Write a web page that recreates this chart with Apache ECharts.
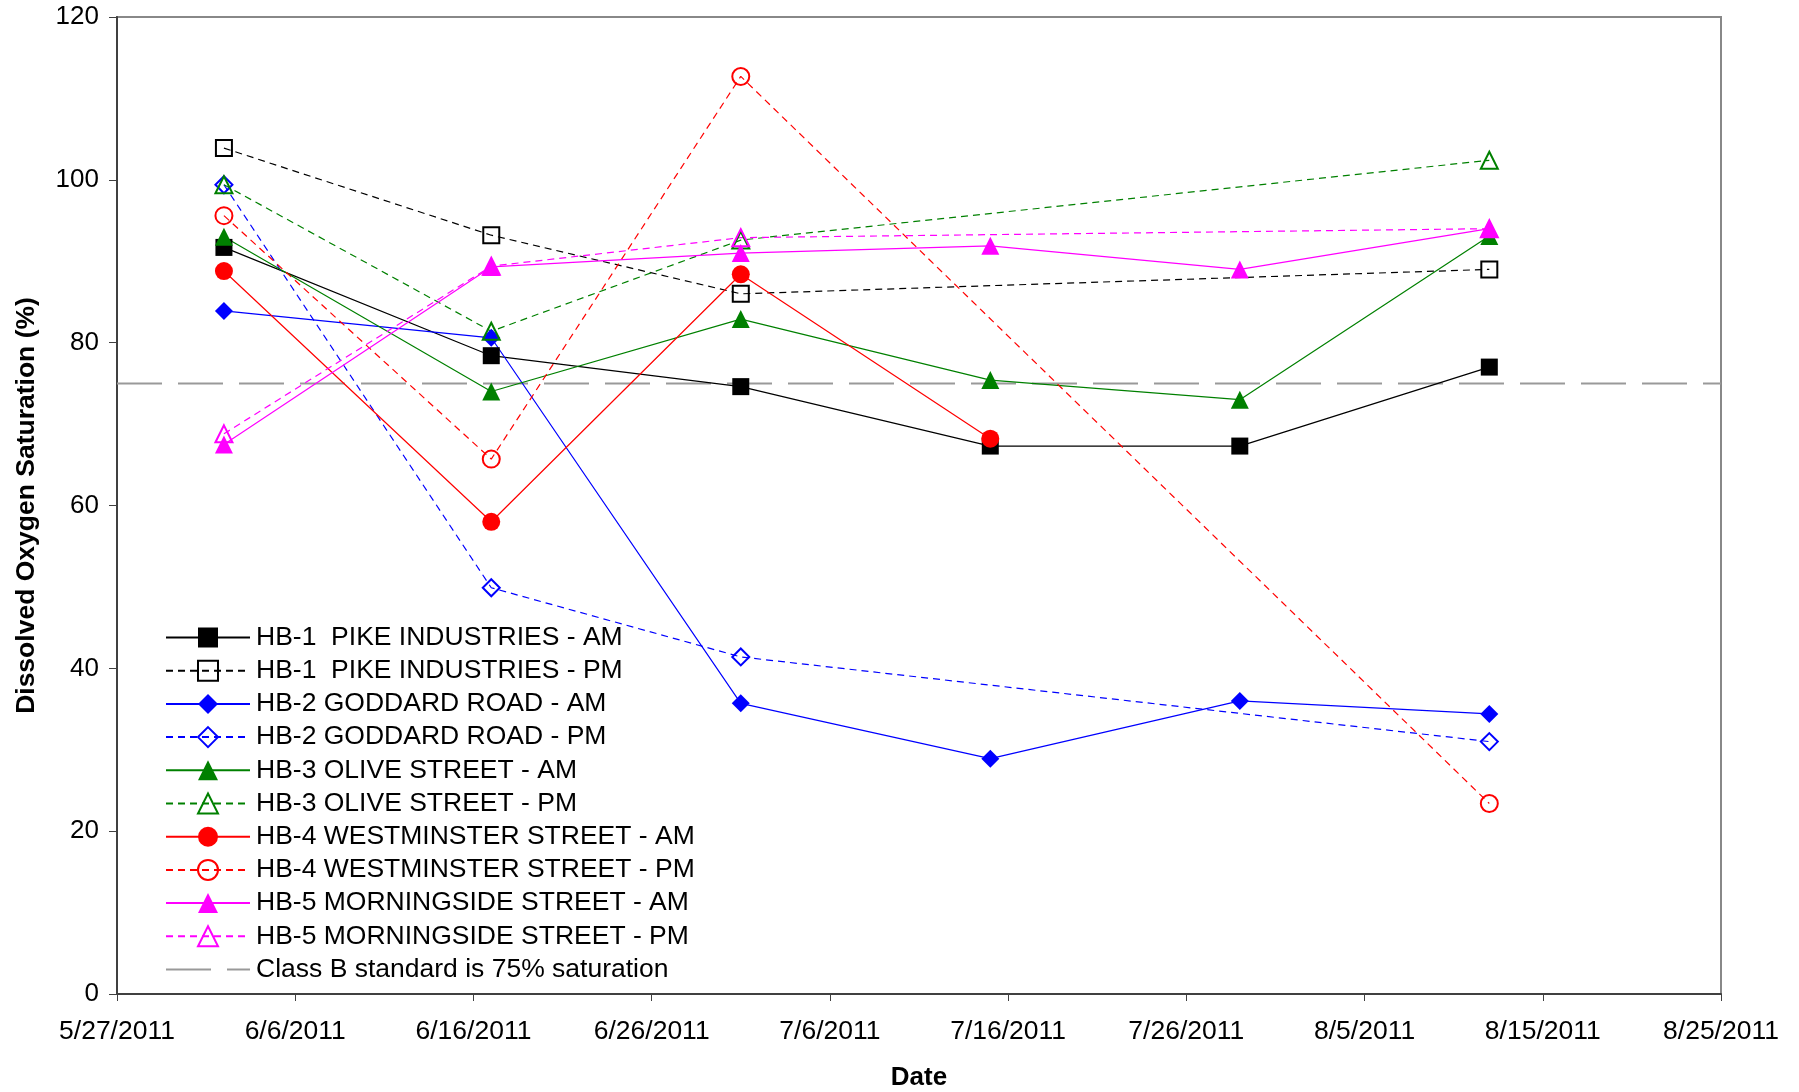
<!DOCTYPE html>
<html>
<head>
<meta charset="utf-8">
<script src="https://cdn.jsdelivr.net/npm/echarts@6/dist/echarts.min.js"></script>
<style>
html,body{margin:0;padding:0;background:#fff;}
#chart{width:1799px;height:1092px;}
</style>
</head>
<body>
<div id="chart"></div>
<script>
// ---- data ----
const startDate = '5/27/2011';
const endDate = '8/25/2011';
const amDates = ['6/2/2011', '6/17/2011', '7/1/2011', '7/15/2011', '7/29/2011', '8/12/2011'];
const pmDates = ['6/2/2011', '6/17/2011', '7/1/2011', '8/12/2011'];

const hb1AM = [91.7, 78.4, 74.6, 67.3, 67.3, 77.0];
const hb1PM = [103.9, 93.2, 86.0, 89.0];
const hb2AM = [83.9, 80.6, 35.7, 28.9, 36.0, 34.4];
const hb2PM = [99.4, 49.9, 41.4, 31.0];
const hb3AM = [93.0, 74.0, 82.9, 75.4, 73.0, 93.1];
const hb3PM = [99.4, 81.4, 92.6, 102.4];
const hb4AM = [88.8, 58.0, 88.4, 68.2, null, null];
const hb4PM = [95.6, 65.7, 112.7, 23.4];
const hb5AM = [67.5, 89.3, 91.0, 91.9, 89.0, 94.0];
const hb5PM = [68.8, 89.4, 92.9, 94.0];
const standardValue = 75;

const seriesNames = [
  'HB-1  PIKE INDUSTRIES - AM',
  'HB-1  PIKE INDUSTRIES - PM',
  'HB-2 GODDARD ROAD - AM',
  'HB-2 GODDARD ROAD - PM',
  'HB-3 OLIVE STREET - AM',
  'HB-3 OLIVE STREET - PM',
  'HB-4 WESTMINSTER STREET - AM',
  'HB-4 WESTMINSTER STREET - PM',
  'HB-5 MORNINGSIDE STREET - AM',
  'HB-5 MORNINGSIDE STREET - PM',
  'Class B standard is 75% saturation'
];
const yTicks = { min: 0, max: 120, step: 20 };
const xStepDays = 10;

// ---- helpers ----
function parseMDY(s) {
  const p = s.split('/').map(Number);
  return Date.UTC(p[2], p[0] - 1, p[1]);
}
const DAY = 86400000;
const base = parseMDY(startDate);
function dayOffset(s) { return Math.round((parseMDY(s) - base) / DAY); }
function fmt(v) {
  const d = new Date(base + v * DAY);
  return (d.getUTCMonth() + 1) + '/' + d.getUTCDate() + '/' + d.getUTCFullYear();
}
function pairs(dates, vals) {
  return dates.map((d, i) => [dayOffset(d), vals[i]]).filter(p => p[1] !== null);
}

const SYM = 18;
function solid(name, color, symbol, dates, vals) {
  return {
    name, type: 'line', data: pairs(dates, vals),
    symbol, symbolSize: symbol === 'rect' ? 17 : SYM,
    showAllSymbol: true,
    lineStyle: { color, width: 1.2, type: 'solid' },
    itemStyle: { color, borderColor: color, borderWidth: 0 },
    emphasis: { disabled: true },
    animation: false
  };
}
function dashed(name, color, symbol, dates, vals) {
  return {
    name, type: 'line', data: pairs(dates, vals),
    symbol, symbolSize: symbol === 'rect' ? 16 : SYM - 1,
    showAllSymbol: true,
    lineStyle: { color, width: 1.2, type: [7, 5] },
    itemStyle: { color: 'rgba(255,255,255,0)', borderColor: color, borderWidth: 2 },
    emphasis: { disabled: true },
    animation: false
  };
}

const FONT = '"Liberation Sans", Arial, sans-serif';
const xMax = dayOffset(endDate);

const series = [
  solid(seriesNames[0], '#000000', 'rect', amDates, hb1AM),
  dashed(seriesNames[1], '#000000', 'rect', pmDates, hb1PM),
  solid(seriesNames[2], '#0000FF', 'diamond', amDates, hb2AM),
  dashed(seriesNames[3], '#0000FF', 'diamond', pmDates, hb2PM),
  solid(seriesNames[4], '#008000', 'triangle', amDates, hb3AM),
  dashed(seriesNames[5], '#008000', 'triangle', pmDates, hb3PM),
  solid(seriesNames[6], '#FF0000', 'circle', amDates, hb4AM),
  dashed(seriesNames[7], '#FF0000', 'circle', pmDates, hb4PM),
  solid(seriesNames[8], '#FF00FF', 'triangle', amDates, hb5AM),
  dashed(seriesNames[9], '#FF00FF', 'triangle', pmDates, hb5PM),
  {
    name: seriesNames[10], type: 'line',
    data: [[0, standardValue], [xMax, standardValue]],
    symbol: 'none', z: 1,
    lineStyle: { color: '#999999', width: 2, type: [45, 16] },
    itemStyle: { color: 'rgba(0,0,0,0)', borderWidth: 0 },
    emphasis: { disabled: true },
    animation: false
  }
];
series[8].z = 3;

const chart = echarts.init(document.getElementById('chart'), null, { renderer: 'canvas' });
chart.setOption({
  backgroundColor: '#ffffff',
  animation: false,
  grid: {
    left: 117, right: 78, top: 17, bottom: 98,
    containLabel: false, outerBoundsMode: 'none',
    show: true, borderColor: '#888888', borderWidth: 2, backgroundColor: 'transparent'
  },
  legend: {
    orient: 'vertical',
    left: 160, top: 619,
    itemWidth: 84, itemHeight: 25, itemGap: 6.2,
    selectedMode: false,
    textStyle: { fontFamily: FONT, fontSize: 26.5, color: '#000', lineHeight: 26, padding: [0, 0, 0, 1] },
    data: seriesNames
  },
  xAxis: {
    type: 'value',
    min: 0, max: xMax, interval: xStepDays,
    name: 'Date', nameLocation: 'middle', nameGap: 71,
    nameTextStyle: { fontFamily: FONT, fontSize: 26, fontWeight: 'bold', color: '#000' },
    axisLine: { show: true, onZero: false, lineStyle: { color: '#404040', width: 2 } },
    axisTick: { show: true, length: 7, lineStyle: { color: '#404040', width: 1 } },
    axisLabel: { formatter: fmt, fontFamily: FONT, fontSize: 26.5, color: '#000', margin: 24, showMinLabel: true, showMaxLabel: true },
    splitLine: { show: false }
  },
  yAxis: {
    type: 'value',
    min: yTicks.min, max: yTicks.max, interval: yTicks.step,
    name: 'Dissolved Oxygen Saturation (%)', nameLocation: 'middle', nameGap: 77,
    nameTextStyle: { fontFamily: FONT, fontSize: 26.5, fontWeight: 'bold', color: '#000' },
    axisLine: { show: true, lineStyle: { color: '#404040', width: 2 } },
    axisTick: { show: true, length: 8, lineStyle: { color: '#404040', width: 1 } },
    axisLabel: { fontFamily: FONT, fontSize: 26, color: '#000', margin: 18 },
    splitLine: { show: false }
  },
  series
});
</script>
</body>
</html>
